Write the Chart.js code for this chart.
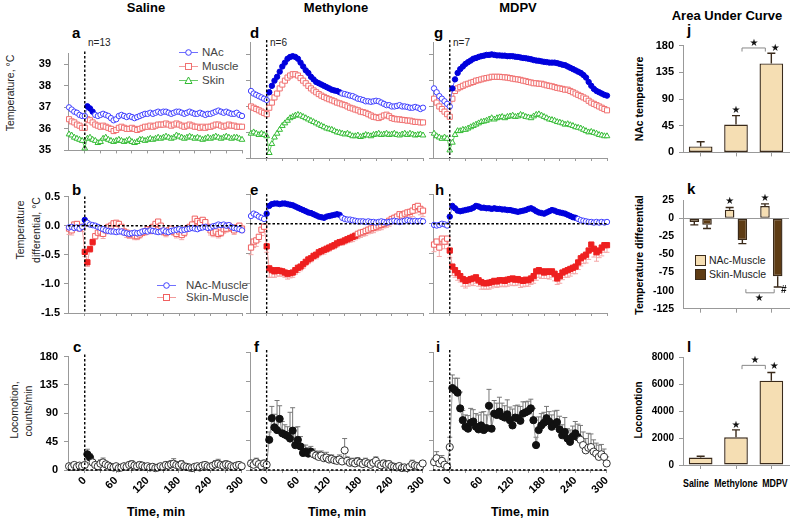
<!DOCTYPE html>
<html>
<head>
<meta charset="utf-8">
<script src="https://cdn.jsdelivr.net/npm/chart.js@4.4.1/dist/chart.umd.min.js"></script>
<style>
body { margin: 0; background: #fff; width: 791px; height: 521px; overflow: hidden; position: relative; font-family: "Liberation Sans", Arial, sans-serif; }
canvas { position: absolute; }
.tx { position: absolute; white-space: nowrap; line-height: 1; color: #000; }
.c { transform: translateX(-50%); }
.cn { transform: translateX(-50%) scaleX(0.8); }
.rot { transform: translate(-50%, -50%) rotate(-90deg); }
.b { font-weight: bold; }
.lg { position: absolute; display: flex; align-items: center; font-size: 11.5px; color: #444; white-space: nowrap; line-height: 1; }
.lg svg { margin-right: 4px; }
.box { width: 9px; height: 9px; border: 1px solid #3a2a1a; margin-right: 3px; }
</style>
</head>
<body>

<!-- column titles -->
<div class="tx b c" style="left:146px;top:1px;font-size:13px">Saline</div>
<div class="tx b c" style="left:336px;top:1px;font-size:13px">Methylone</div>
<div class="tx b c" style="left:518px;top:1px;font-size:13px">MDPV</div>
<div class="tx b c" style="left:727px;top:9px;font-size:13px">Area Under Curve</div>

<!-- panel letters -->
<div class="tx b" style="left:72px;top:25px;font-size:15px">a</div>
<div class="tx b" style="left:250px;top:25px;font-size:15px">d</div>
<div class="tx b" style="left:434px;top:25px;font-size:15px">g</div>
<div class="tx b" style="left:687px;top:22px;font-size:15px">j</div>
<div class="tx b" style="left:72px;top:182px;font-size:15px">b</div>
<div class="tx b" style="left:250px;top:182px;font-size:15px">e</div>
<div class="tx b" style="left:435px;top:182px;font-size:15px">h</div>
<div class="tx b" style="left:687px;top:181px;font-size:15px">k</div>
<div class="tx b" style="left:73px;top:339px;font-size:15px">c</div>
<div class="tx b" style="left:254px;top:339px;font-size:15px">f</div>
<div class="tx b" style="left:436px;top:339px;font-size:15px">i</div>
<div class="tx b" style="left:687px;top:339px;font-size:15px">l</div>

<!-- n labels -->
<div class="tx" style="left:88px;top:38px;font-size:10px;color:#222">n=13</div>
<div class="tx" style="left:270px;top:38px;font-size:10px;color:#222">n=6</div>
<div class="tx" style="left:453px;top:38px;font-size:10px;color:#222">n=7</div>

<!-- left axis titles -->
<div class="tx rot" style="left:10px;top:93px;font-size:10.5px;color:#222">Temperature, °C</div>
<div class="tx rot" style="left:20px;top:230px;font-size:10.5px;color:#222">Temperature</div>
<div class="tx rot" style="left:36px;top:230px;font-size:10.5px;color:#222">differential, °C</div>
<div class="tx rot" style="left:14px;top:410px;font-size:10.5px;color:#222">Locomotion,</div>
<div class="tx rot" style="left:28px;top:411px;font-size:10.5px;color:#222">counts/min</div>

<!-- right axis titles -->
<div class="tx b rot" style="left:639px;top:99px;font-size:10.5px">NAc temperature</div>
<div class="tx b rot" style="left:639px;top:255px;font-size:10.5px">Temperature differential</div>
<div class="tx b rot" style="left:639px;top:410px;font-size:10px">Locomotion</div>

<!-- x axis titles -->
<div class="tx b c" style="left:156px;top:506px;font-size:12.5px">Time, min</div>
<div class="tx b c" style="left:337px;top:506px;font-size:12.5px">Time, min</div>
<div class="tx b c" style="left:520px;top:506px;font-size:12.5px">Time, min</div>

<!-- group labels under panel l -->
<div class="tx b cn" style="left:696px;top:478px;font-size:11px">Saline</div>
<div class="tx b cn" style="left:736px;top:478px;font-size:11px">Methylone</div>
<div class="tx b cn" style="left:775px;top:478px;font-size:11px">MDPV</div>

<!-- legend a -->
<div class="lg" style="left:179px;top:47px"><svg width="19" height="9"><line x1="0" y1="4.5" x2="19" y2="4.5" stroke="#7070ff"/><circle cx="9.5" cy="4.5" r="2.8" fill="#fff" stroke="#4040ff"/></svg>NAc</div>
<div class="lg" style="left:179px;top:61px"><svg width="19" height="9"><line x1="0" y1="4.5" x2="19" y2="4.5" stroke="#f29a9a"/><rect x="6.5" y="1.5" width="6" height="6" fill="#fff" stroke="#f07070"/></svg>Muscle</div>
<div class="lg" style="left:179px;top:75px"><svg width="19" height="9"><line x1="0" y1="4.5" x2="19" y2="4.5" stroke="#66cc66"/><polygon points="9.5,1 13,7.5 6,7.5" fill="#fff" stroke="#33bb33"/></svg>Skin</div>

<!-- legend b -->
<div class="lg" style="left:157px;top:280px"><svg width="19" height="9"><line x1="0" y1="4.5" x2="19" y2="4.5" stroke="#7070ff"/><circle cx="9.5" cy="4.5" r="2.8" fill="#fff" stroke="#4040ff"/></svg><span style="margin-left:6px">NAc-Muscle</span></div>
<div class="lg" style="left:157px;top:292px"><svg width="19" height="9"><line x1="0" y1="4.5" x2="19" y2="4.5" stroke="#f29a9a"/><rect x="6.5" y="1.5" width="6" height="6" fill="#fff" stroke="#f06060"/></svg><span style="margin-left:6px">Skin-Muscle</span></div>

<!-- legend k -->
<div class="lg" style="left:695px;top:255px;font-size:10.5px;color:#222"><div class="box" style="background:#f5deb3"></div>NAc-Muscle</div>
<div class="lg" style="left:695px;top:269px;font-size:10.5px;color:#222"><div class="box" style="background:#5e3c14"></div>Skin-Muscle</div>

<script>
// ---- data ----
const TIME = [-30, -25, -20, -15, -10, -5, 0,
  5, 10, 15, 20, 25, 30, 35, 40, 45, 50,
  55, 60, 65, 70, 75, 80, 85, 90, 95, 100,
  105, 110, 115, 120, 125, 130, 135, 140, 145, 150,
  155, 160, 165, 170, 175, 180, 185, 190, 195, 200,
  205, 210, 215, 220, 225, 230, 235, 240, 245, 250,
  255, 260, 265, 270, 275, 280, 285, 290, 295, 300];
const X_TICKS = [0, 30, 60, 90, 120, 150, 180, 210, 240, 270, 300];
const TEMP_TICKS = [35, 36, 37, 38, 39];
const DIFF_TICKS = [-1.5, -1.0, -0.5, 0.0, 0.5];
const LOC_TICKS = [0, 45, 90, 135, 180];

// Saline temperatures
const SAL_NAC = [37.0, 36.9, 36.8, 36.75, 36.65, 36.6, 36.6,
  37.05, 36.95, 36.8, 36.65, 36.6, 36.65, 36.7, 36.65, 36.6, 36.5,
  36.4, 36.45, 36.6, 36.65, 36.6, 36.55, 36.6, 36.55, 36.5, 36.55,
  36.6, 36.65, 36.7, 36.7, 36.75, 36.7, 36.75, 36.8, 36.75, 36.8,
  36.8, 36.75, 36.7, 36.75, 36.8, 36.8, 36.75, 36.7, 36.75, 36.8,
  36.75, 36.7, 36.7, 36.75, 36.7, 36.65, 36.7, 36.7, 36.75, 36.8,
  36.85, 36.8, 36.75, 36.8, 36.75, 36.7, 36.7, 36.75, 36.65, 36.6];
const SAL_MUS = [36.45, 36.35, 36.3, 36.2, 36.15, 36.05, 36.05,
  36.45, 36.4, 36.3, 36.2, 36.15, 36.1, 36.15, 36.1, 36.05, 36.0,
  35.9, 35.95, 36.05, 36.1, 36.05, 36.0, 36.0, 36.05, 36.0, 35.95,
  36.0, 36.05, 36.1, 36.1, 36.15, 36.1, 36.15, 36.2, 36.2, 36.2,
  36.25, 36.2, 36.15, 36.2, 36.25, 36.2, 36.15, 36.1, 36.15, 36.2,
  36.15, 36.1, 36.1, 36.05, 36.1, 36.05, 36.1, 36.1, 36.15, 36.2,
  36.2, 36.15, 36.1, 36.15, 36.2, 36.15, 36.15, 36.1, 36.1, 36.1];
const SAL_SKIN = [35.75, 35.7, 35.6, 35.55, 35.5, 35.45, 35.1,
  35.55, 35.6, 35.5, 35.45, 35.35, 35.4, 35.55, 35.6, 35.5, 35.45,
  35.4, 35.45, 35.5, 35.45, 35.4, 35.45, 35.5, 35.4, 35.35, 35.4,
  35.5, 35.5, 35.45, 35.5, 35.55, 35.5, 35.55, 35.6, 35.55, 35.6,
  35.65, 35.6, 35.55, 35.6, 35.7, 35.65, 35.6, 35.55, 35.6, 35.65,
  35.6, 35.55, 35.6, 35.55, 35.5, 35.55, 35.6, 35.55, 35.6, 35.65,
  35.6, 35.55, 35.6, 35.65, 35.6, 35.55, 35.6, 35.6, 35.55, 35.5];

// Methylone temperatures
const MET_NAC = [37.6, 37.5, 37.45, 37.4, 37.35, 37.3, 37.25,
  37.55, 37.8, 38.0, 38.15, 38.35, 38.55, 38.7, 38.85, 38.92, 38.95,
  38.92, 38.85, 38.7, 38.55, 38.4, 38.3, 38.15, 38.05, 37.95, 37.9,
  37.85, 37.8, 37.75, 37.7, 37.65, 37.62, 37.6, 37.55, 37.5, 37.48,
  37.45, 37.42, 37.4, 37.35, 37.3, 37.28, 37.25, 37.2, 37.2, 37.18,
  37.2, 37.22, 37.2, 37.15, 37.1, 37.05, 37.05, 37.0, 37.0, 37.02,
  37.05, 37.0, 37.0, 36.98, 36.95, 36.95, 36.98, 36.95, 36.9, 36.95];
const MET_MUS = [37.0, 36.95, 36.9, 36.85, 36.8, 36.75, 36.7,
  36.95, 37.15, 37.35, 37.5, 37.7, 37.85, 38.0, 38.12, 38.2, 38.25,
  38.25, 38.2, 38.1, 38.0, 37.9, 37.8, 37.7, 37.62, 37.55, 37.48,
  37.42, 37.37, 37.32, 37.28, 37.24, 37.2, 37.15, 37.12, 37.08, 37.05,
  37.0, 36.95, 36.92, 36.88, 36.85, 36.8, 36.78, 36.75, 36.7, 36.65,
  36.6, 36.58, 36.55, 36.6, 36.65, 36.68, 36.62, 36.55, 36.52, 36.5,
  36.5, 36.48, 36.47, 36.45, 36.45, 36.42, 36.4, 36.4, 36.38, 36.38];
const MET_SKIN = [35.95, 36.0, 35.95, 35.9, 35.95, 35.9, 35.85,
  35.2, 35.55, 35.8, 35.95, 36.1, 36.25, 36.35, 36.45, 36.55, 36.6,
  36.65, 36.68, 36.65, 36.6, 36.55, 36.5, 36.45, 36.4, 36.35, 36.3,
  36.25, 36.2, 36.15, 36.12, 36.1, 36.05, 36.0, 35.98, 35.95, 35.92,
  35.95, 35.9, 35.85, 35.85, 35.88, 35.82, 35.85, 35.9, 35.88, 35.85,
  35.9, 35.92, 35.95, 35.9, 35.92, 35.95, 35.9, 35.92, 35.95, 35.9,
  35.88, 35.92, 35.95, 35.9, 35.95, 35.92, 35.88, 35.9, 35.92, 35.88];

// MDPV temperatures
const MDPV_NAC = [37.7, 37.55, 37.4, 37.3, 37.2, 37.1, 37.0,
  37.7, 38.05, 38.3, 38.45, 38.55, 38.65, 38.72, 38.78, 38.85, 38.88,
  38.92, 38.95, 38.97, 39.0, 39.0, 39.02, 39.0, 38.98, 38.98, 38.97,
  38.97, 38.95, 38.95, 38.95, 38.93, 38.92, 38.9, 38.88, 38.87, 38.85,
  38.83, 38.8, 38.78, 38.77, 38.75, 38.73, 38.72, 38.7, 38.7, 38.7,
  38.68, 38.65, 38.62, 38.6, 38.55, 38.5, 38.45, 38.4, 38.35, 38.3,
  38.22, 38.12, 37.95, 37.8, 37.68, 37.6, 37.55, 37.5, 37.45, 37.42];
const MDPV_MUS = [37.3, 37.15, 37.0, 36.9, 36.8, 36.7, 36.6,
  37.3, 37.6, 37.7, 37.75, 37.8, 37.85, 37.88, 37.92, 37.95, 38.0,
  38.02, 38.05, 38.08, 38.1, 38.12, 38.15, 38.15, 38.15, 38.15, 38.14,
  38.13, 38.12, 38.1, 38.08, 38.06, 38.05, 38.03, 38.0, 37.98, 37.95,
  37.93, 37.9, 37.9, 37.88, 37.88, 37.85, 37.82, 37.8, 37.78, 37.75,
  37.72, 37.7, 37.68, 37.65, 37.65, 37.6, 37.55, 37.5, 37.45, 37.4,
  37.35, 37.3, 37.22, 37.15, 37.1, 37.05, 37.0, 36.95, 36.9, 36.85];
const MDPV_SKIN = [35.95, 35.85, 35.8, 35.75, 35.8, 35.75, 35.3,
  35.6, 35.9, 36.05, 36.05, 36.1, 36.1, 36.15, 36.2, 36.25, 36.3,
  36.35, 36.4, 36.42, 36.45, 36.5, 36.55, 36.5, 36.55, 36.58, 36.6,
  36.55, 36.6, 36.62, 36.65, 36.6, 36.62, 36.68, 36.65, 36.6, 36.58,
  36.55, 36.62, 36.68, 36.7, 36.65, 36.6, 36.55, 36.5, 36.48, 36.45,
  36.4, 36.38, 36.35, 36.3, 36.32, 36.28, 36.25, 36.2, 36.18, 36.15,
  36.1, 36.05, 36.0, 36.02, 35.98, 35.95, 35.9, 35.88, 35.85, 35.85];

// Temperature differentials
const SAL_NM = [-0.03, -0.02, -0.04, -0.03, -0.05, -0.02, 0.1,
  0.05, 0.02, 0.01, 0.0, -0.02, -0.04, -0.06, -0.08, -0.09, -0.1,
  -0.1, -0.11, -0.1, -0.1, -0.12, -0.13, -0.14, -0.13, -0.12, -0.13,
  -0.12, -0.1, -0.09, -0.1, -0.08, -0.09, -0.1, -0.11, -0.1, -0.08,
  -0.1, -0.11, -0.09, -0.08, -0.07, -0.06, -0.08, -0.07, -0.06, -0.05,
  -0.04, -0.05, -0.06, -0.04, -0.03, -0.02, -0.04, -0.03, -0.01, 0.0,
  0.02, 0.01, 0.02, 0.0, 0.01, -0.02, -0.04, -0.05, -0.06, -0.08];
const SAL_SM = [-0.05, -0.08, 0.02, 0.03, -0.04, -0.02, -0.45,
  -0.63, -0.4, -0.28, -0.18, -0.12, -0.1, -0.14, -0.08, -0.02, 0.0,
  0.04, 0.05, 0.03, -0.02, -0.1, -0.12, -0.15, -0.14, -0.17, -0.18,
  -0.15, -0.12, -0.1, -0.06, -0.08, -0.02, 0.03, 0.07, 0.0, -0.1,
  -0.12, -0.08, -0.05, -0.11, -0.14, -0.1, -0.16, -0.12, -0.05, -0.02,
  0.02, 0.12, 0.08, 0.05, 0.1, 0.06, -0.02, -0.08, -0.12, -0.1,
  -0.14, -0.12, -0.06, -0.05, 0.0, -0.04, -0.08, -0.03, 0.0, -0.05];
const SAL_SM_ERR = [0.1, 0.08, 0.06, 0.07, 0.06, 0.08, 0.08,
  0.07, 0.06, 0.06, 0.05, 0.06, 0.05, 0.08, 0.06, 0.05, 0.06,
  0.05, 0.06, 0.05, 0.07, 0.06, 0.08, 0.07, 0.06, 0.07, 0.06,
  0.06, 0.05, 0.06, 0.07, 0.06, 0.05, 0.06, 0.07, 0.05, 0.06,
  0.07, 0.06, 0.06, 0.05, 0.07, 0.06, 0.08, 0.06, 0.05, 0.06,
  0.05, 0.06, 0.06, 0.05, 0.06, 0.07, 0.06, 0.08, 0.07, 0.06,
  0.07, 0.06, 0.07, 0.06, 0.05, 0.06, 0.07, 0.06, 0.06, 0.07];
const MET_NM = [0.13, 0.17, 0.15, 0.12, 0.1, 0.08, 0.17,
  0.3, 0.33, 0.34, 0.34, 0.33, 0.34, 0.34, 0.33, 0.32, 0.31,
  0.29, 0.27, 0.25, 0.23, 0.21, 0.19, 0.18, 0.16, 0.14, 0.12,
  0.11, 0.1, 0.12, 0.13, 0.14, 0.15, 0.16, 0.15, 0.1, 0.08,
  0.07, 0.07, 0.06, 0.05, 0.04, 0.04, 0.04, 0.03, 0.04, 0.03,
  0.03, 0.02, 0.03, 0.04, 0.03, 0.02, 0.03, 0.04, 0.05, 0.04,
  0.03, 0.04, 0.05, 0.06, 0.05, 0.04, 0.05, 0.04, 0.05, 0.04];
const MET_SM = [-0.4, -0.3, -0.28, -0.22, -0.1, -0.05, -0.38,
  -0.75, -0.78, -0.8, -0.78, -0.79, -0.8, -0.82, -0.84, -0.83, -0.82,
  -0.78, -0.74, -0.72, -0.68, -0.64, -0.6, -0.58, -0.54, -0.52, -0.48,
  -0.46, -0.44, -0.42, -0.4, -0.38, -0.36, -0.33, -0.31, -0.3, -0.28,
  -0.26, -0.24, -0.22, -0.2, -0.17, -0.15, -0.14, -0.12, -0.1, -0.08,
  -0.07, -0.05, -0.03, -0.02, 0.0, 0.02, 0.05, 0.08, 0.1, 0.12,
  0.16, 0.14, 0.17, 0.19, 0.2, 0.22, 0.28, 0.3, 0.25, 0.22];
const MET_SM_ERR = [0.12, 0.1, 0.1, 0.08, 0.1, 0.08, 0.1,
  0.15, 0.12, 0.1, 0.1, 0.09, 0.08, 0.08, 0.09, 0.08, 0.08,
  0.07, 0.08, 0.07, 0.07, 0.06, 0.07, 0.06, 0.06, 0.07, 0.06,
  0.06, 0.07, 0.06, 0.06, 0.05, 0.06, 0.06, 0.05, 0.06, 0.06,
  0.06, 0.07, 0.08, 0.07, 0.08, 0.08, 0.07, 0.08, 0.07, 0.08,
  0.08, 0.07, 0.08, 0.08, 0.07, 0.08, 0.09, 0.08, 0.1, 0.09,
  0.1, 0.09, 0.1, 0.1, 0.09, 0.1, 0.1, 0.11, 0.1, 0.1];
const MDPV_NM = [-0.02, -0.03, -0.02, 0.0, -0.01, -0.03, 0.12,
  0.3, 0.26, 0.22, 0.21, 0.22, 0.23, 0.24, 0.25, 0.27, 0.3,
  0.29, 0.27, 0.27, 0.26, 0.26, 0.25, 0.26, 0.25, 0.25, 0.24,
  0.24, 0.23, 0.23, 0.22, 0.21, 0.2, 0.21, 0.22, 0.23, 0.25,
  0.26, 0.24, 0.21, 0.19, 0.18, 0.17, 0.19, 0.21, 0.23, 0.22,
  0.2, 0.19, 0.18, 0.17, 0.15, 0.13, 0.11, 0.1, 0.08, 0.06,
  0.05, 0.04, 0.03, 0.03, 0.02, 0.03, 0.02, 0.03, 0.02, 0.03];
const MDPV_SM = [-0.35, -0.3, -0.4, -0.25, -0.3, -0.25, -0.45,
  -0.72, -0.78, -0.83, -0.88, -0.93, -0.96, -0.95, -0.93, -0.92, -0.9,
  -0.95, -0.98, -1.0, -1.0, -0.99, -0.98, -0.96, -0.97, -0.95, -0.95,
  -0.96, -0.94, -0.93, -0.92, -0.94, -0.93, -0.95, -0.96, -0.94, -0.95,
  -0.92, -0.88, -0.8, -0.78, -0.8, -0.82, -0.8, -0.81, -0.8, -0.84,
  -0.92, -0.88, -0.82, -0.8, -0.78, -0.76, -0.74, -0.72, -0.65, -0.58,
  -0.55, -0.52, -0.45, -0.35, -0.42, -0.48, -0.45, -0.4, -0.36, -0.36];
const MDPV_SM_ERR = [0.12, 0.1, 0.15, 0.1, 0.12, 0.1, 0.12,
  0.15, 0.12, 0.12, 0.1, 0.12, 0.12, 0.1, 0.1, 0.12, 0.1,
  0.1, 0.12, 0.1, 0.1, 0.11, 0.1, 0.1, 0.1, 0.11, 0.1,
  0.1, 0.11, 0.1, 0.12, 0.1, 0.1, 0.12, 0.1, 0.11, 0.1,
  0.1, 0.12, 0.15, 0.12, 0.12, 0.1, 0.12, 0.12, 0.1, 0.12,
  0.1, 0.12, 0.12, 0.1, 0.12, 0.12, 0.1, 0.12, 0.12, 0.13,
  0.12, 0.14, 0.15, 0.12, 0.14, 0.15, 0.12, 0.14, 0.12, 0.12];

// Locomotion, counts/min
const SAL_LOC = [6, 5, 8, 5, 7, 6, 8,
  25, 20, 12, 8, 6, 10, 12, 9, 7, 5,
  4, 6, 3, 4, 6, 5, 8, 9, 7, 6,
  8, 7, 5, 6, 4, 5, 3, 4, 6, 5,
  8, 7, 9, 10, 8, 7, 9, 6, 5, 4,
  3, 5, 6, 4, 7, 8, 6, 5, 7, 9,
  10, 8, 7, 9, 8, 6, 5, 7, 8, 6];
const SAL_LOC_ERR = [4, 3, 4, 3, 4, 3, 4,
  8, 6, 5, 4, 3, 6, 7, 5, 4, 3,
  3, 4, 2, 3, 4, 3, 5, 6, 4, 3,
  5, 4, 3, 4, 3, 3, 2, 3, 4, 3,
  5, 4, 6, 8, 5, 4, 6, 4, 3, 3,
  2, 3, 4, 3, 4, 5, 4, 3, 4, 6,
  7, 5, 4, 6, 5, 4, 3, 4, 5, 4];
const MET_LOC = [10, 8, 12, 9, 6, 10, 8,
  46, 79, 65, 61, 78, 56, 54, 52, 48, 60,
  38, 46, 36, 26, 28, 25, 28, 24, 22, 20,
  22, 18, 19, 16, 17, 15, 14, 16, 13, 30,
  14, 11, 12, 10, 13, 11, 9, 12, 10, 8,
  11, 14, 9, 7, 10, 8, 9, 6, 5, 4,
  6, 3, 4, 3, 5, 9, 7, 6, 5, 10];
const MET_LOC_ERR = [5, 4, 6, 5, 3, 5, 4,
  12, 18, 20, 45, 20, 18, 15, 14, 40, 35,
  27, 20, 15, 12, 10, 9, 8, 8, 7, 8,
  7, 6, 8, 7, 6, 5, 6, 7, 5, 18,
  6, 5, 6, 5, 6, 5, 4, 6, 5, 4,
  5, 6, 4, 3, 5, 4, 5, 3, 3, 2,
  3, 2, 2, 2, 3, 6, 4, 3, 3, 4];
const MDPV_LOC = [12, 18, 10, 14, 8, 5, 35,
  125, 122, 118, 94, 76, 66, 63, 72, 74, 66,
  62, 68, 61, 64, 98, 63, 86, 84, 89, 82,
  80, 85, 76, 68, 80, 79, 75, 86, 88, 90,
  94, 76, 38, 61, 68, 72, 79, 74, 66, 70,
  73, 62, 53, 58, 48, 43, 51, 56, 50, 46,
  38, 30, 34, 35, 28, 25, 20, 24, 20, 10];
const MDPV_LOC_ERR = [6, 10, 5, 8, 4, 3, 15,
  20, 18, 22, 25, 15, 18, 20, 22, 18, 20,
  22, 20, 28, 20, 25, 22, 20, 18, 22, 20,
  18, 22, 20, 25, 18, 20, 22, 18, 16, 15,
  14, 18, 12, 20, 18, 16, 18, 15, 18, 20,
  18, 20, 16, 22, 15, 18, 16, 18, 20, 22,
  20, 18, 22, 20, 18, 16, 18, 15, 12, 10];

// time windows (min) drawn with filled symbols
const SIG_A_NAC = [5, 15];
const SIG_B_NM = [0, 0], SIG_B_SM = [0, 15];
const SIG_C_LOC = [5, 10];
const SIG_D_NAC = [5, 140];
const SIG_E_NM = [0, 140], SIG_E_SM = [0, 170];
const SIG_F_LOC = [5, 85];
const SIG_G_NAC = [5, 300];
const SIG_H_NM = [0, 240], SIG_H_SM = [0, 300];
const SIG_I_LOC = [5, 245];

// Area under curve
const GROUPS = ['Saline', 'Methylone', 'MDPV'];
const AUC_TEMP = [10, 47, 150], AUC_TEMP_ERR = [8, 15, 17];
const AUC_NM = [-5, 12, 17], AUC_NM_ERR = [4, 3, 3];
const AUC_SM = [-9, -30, -80], AUC_SM_ERR = [5, 5, 15];
const AUC_LOC = [550, 2050, 6250], AUC_LOC_ERR = [100, 550, 600];
const AUC_TEMP_TICKS = [0, 45, 90, 135, 180];
const AUC_DIFF_TICKS = [-125, -100, -75, -50, -25, 0, 25];
const AUC_LOC_TICKS = [0, 2000, 4000, 6000, 8000];

// ---- drawing ----
const FONT = '"Liberation Sans", Arial, sans-serif';
const AXIS = '#999';

function inSig(ctx) {
    const s = ctx.dataset && ctx.dataset.sig;
    if (!s || ctx.dataIndex === undefined) return false;
    const t = TIME[ctx.dataIndex];
    return t >= s[0] && t <= s[1];
}

function series(arr, o) {
    return {
        data: TIME.map((t, i) => ({ x: t, y: arr[i] })),
        errors: o.err || null, errSign: o.errSign || 1, errColor: o.errColor || '#ccc',
        sig: o.sig || null,
        borderColor: o.line, borderWidth: 1,
        pointStyle: o.shape, pointRadius: o.r,
        pointBorderWidth: 1,
        pointBorderColor: ctx => inSig(ctx) ? o.fill : o.stroke,
        pointBackgroundColor: ctx => inSig(ctx) ? o.fill : '#fff',
        clip: false
    };
}

const NAC = { shape: 'circle', r: 2.7, stroke: '#4040ff', line: '#7070ff', fill: '#0000dd' };
const MUS = { shape: 'rect', r: 3.6, stroke: '#f07070', line: '#f29a9a', fill: '#e02020' };
const SKIN = { shape: 'triangle', r: 3.3, stroke: '#33bb33', line: '#66cc66', fill: '#119911' };
const SM = { shape: 'rect', r: 3.7, stroke: '#f06060', line: '#f29a9a', fill: '#ee2020', errSign: -1, errColor: '#f5a8a8' };
const LOC = { shape: 'circle', r: 3.6, stroke: '#333', line: '#999', fill: '#111', errSign: 1, errColor: '#777' };

const timeExtras = {
    id: 'timeExtras',
    beforeDatasetsDraw(chart, args, opts) {
        const { ctx } = chart;
        const x = chart.scales.x, y = chart.scales.y;
        ctx.save();
        chart.data.datasets.forEach(ds => {
            if (!ds.errors) return;
            ctx.strokeStyle = ds.errColor;
            ctx.lineWidth = 1;
            ds.data.forEach((p, j) => {
                const px = x.getPixelForValue(p.x);
                const py = y.getPixelForValue(p.y);
                const pe = y.getPixelForValue(p.y + ds.errSign * ds.errors[j]);
                ctx.beginPath();
                ctx.moveTo(px, py); ctx.lineTo(px, pe);
                ctx.moveTo(px - 2.5, pe); ctx.lineTo(px + 2.5, pe);
                ctx.stroke();
            });
        });
        ctx.restore();
    },
    afterDatasetsDraw(chart, args, opts) {
        const { ctx, chartArea: a } = chart;
        const x = chart.scales.x, y = chart.scales.y;
        ctx.save();
        ctx.strokeStyle = '#000';
        ctx.lineWidth = 1.4;
        ctx.setLineDash([2.5, 2]);
        const x0 = x.getPixelForValue(0);
        ctx.beginPath();
        ctx.moveTo(x0, a.top - opts.vExt);
        ctx.lineTo(x0, a.bottom);
        ctx.stroke();
        if (opts.hLine) {
            const y0 = y.getPixelForValue(0);
            ctx.beginPath();
            ctx.moveTo(a.left, y0);
            ctx.lineTo(a.right, y0);
            ctx.stroke();
        }
        ctx.restore();
    }
};

function makeCanvas(l, r, t, b, yw, xh, pt, pr) {
    const c = document.createElement('canvas');
    c.width = (r - l) + yw + pr;
    c.height = (b - t) + pt + xh;
    c.style.left = (l - yw) + 'px';
    c.style.top = (t - pt) + 'px';
    document.body.appendChild(c);
    return c;
}

const COLS = [{ l: 68, r: 242, yw: 45 }, { l: 250, r: 423, yw: 6 }, { l: 433, r: 607, yw: 6 }];
const ROWS = [
    { t: 42, b: 158, min: 35, max: 39.5, ticks: TEMP_TICKS, pad: 13, fmt: v => String(v), xh: 12, xLabels: false, vExt: 2, hLine: false },
    { t: 194, b: 313, min: -1.5, max: 0.5, ticks: DIFF_TICKS, pad: 4, fmt: v => v.toFixed(1), xh: 12, xLabels: false, vExt: 0, hLine: true },
    { t: 352, b: 470, min: 0, max: 180, ticks: LOC_TICKS, pad: 6, fmt: v => String(v), xh: 32, xLabels: true, vExt: 2, hLine: true }
];

function timeChart(col, row, datasets) {
    const C = COLS[col], R = ROWS[row];
    const canvas = makeCanvas(C.l, C.r, R.t, R.b, C.yw, R.xh, 8, 10);
    const tickFont = { family: FONT, size: 11, weight: 'bold' };
    new Chart(canvas, {
        type: 'line',
        data: { datasets },
        options: {
            responsive: false, animation: false, events: [],
            layout: { padding: { top: 8, right: 10, left: 0, bottom: 0 } },
            plugins: {
                legend: { display: false }, tooltip: { enabled: false },
                timeExtras: { vExt: R.vExt, hLine: R.hLine }
            },
            scales: {
                x: {
                    type: 'linear', min: -32, max: 300,
                    afterBuildTicks: s => { s.ticks = X_TICKS.map(v => ({ value: v })); },
                    afterFit: s => { s.height = R.xh; },
                    border: { color: AXIS, width: 1 },
                    grid: { drawOnChartArea: false, tickLength: 3, color: AXIS },
                    ticks: {
                        display: R.xLabels, autoSkip: false, minRotation: 45, maxRotation: 45, padding: 1,
                        font: tickFont, color: '#000',
                        callback: v => (v % 60 === 0 ? String(v) : '')
                    }
                },
                y: {
                    min: R.min, max: R.max,
                    afterBuildTicks: s => { s.ticks = R.ticks.map(v => ({ value: v })); },
                    afterFit: s => { s.width = C.yw; },
                    border: { color: AXIS, width: 1 },
                    grid: { drawOnChartArea: false, tickLength: 4, color: AXIS },
                    ticks: { display: col === 0, padding: R.pad, font: tickFont, color: '#000', callback: R.fmt }
                }
            }
        },
        plugins: [timeExtras]
    });
}

// row 1: temperatures
timeChart(0, 0, [series(SAL_NAC, { ...NAC, sig: SIG_A_NAC }), series(SAL_MUS, MUS), series(SAL_SKIN, SKIN)]);
timeChart(1, 0, [series(MET_NAC, { ...NAC, sig: SIG_D_NAC }), series(MET_MUS, MUS), series(MET_SKIN, SKIN)]);
timeChart(2, 0, [series(MDPV_NAC, { ...NAC, sig: SIG_G_NAC }), series(MDPV_MUS, MUS), series(MDPV_SKIN, SKIN)]);
// row 2: differentials
timeChart(0, 1, [series(SAL_NM, { ...NAC, sig: SIG_B_NM }), series(SAL_SM, { ...SM, sig: SIG_B_SM, err: SAL_SM_ERR })]);
timeChart(1, 1, [series(MET_NM, { ...NAC, sig: SIG_E_NM }), series(MET_SM, { ...SM, sig: SIG_E_SM, err: MET_SM_ERR })]);
timeChart(2, 1, [series(MDPV_NM, { ...NAC, sig: SIG_H_NM }), series(MDPV_SM, { ...SM, sig: SIG_H_SM, err: MDPV_SM_ERR })]);
// row 3: locomotion
timeChart(0, 2, [series(SAL_LOC, { ...LOC, sig: SIG_C_LOC, err: SAL_LOC_ERR })]);
timeChart(1, 2, [series(MET_LOC, { ...LOC, sig: SIG_F_LOC, err: MET_LOC_ERR })]);
timeChart(2, 2, [series(MDPV_LOC, { ...LOC, sig: SIG_I_LOC, err: MDPV_LOC_ERR })]);

// ---- bar charts ----
const barExtras = {
    id: 'barExtras',
    afterDatasetsDraw(chart, args, opts) {
        const { ctx } = chart;
        const y = chart.scales.y;
        ctx.save();
        ctx.strokeStyle = '#3a2a1a';
        ctx.lineWidth = 1.4;
        chart.data.datasets.forEach((ds, i) => {
            chart.getDatasetMeta(i).data.forEach((bar, j) => {
                const v = ds.data[j], e = ds.errors[j];
                const ye = y.getPixelForValue(v + (v >= 0 ? e : -e));
                ctx.beginPath();
                ctx.moveTo(bar.x, bar.y); ctx.lineTo(bar.x, ye);
                ctx.moveTo(bar.x - 4, ye); ctx.lineTo(bar.x + 4, ye);
                ctx.stroke();
            });
        });
        ctx.strokeStyle = '#888';
        ctx.lineWidth = 1;
        (opts.brackets || []).forEach(b => {
            const x1 = chart.getDatasetMeta(b.ds).data[b.i1].x + b.dx1;
            const x2 = chart.getDatasetMeta(b.ds).data[b.i2].x + b.dx2;
            const yb = y.getPixelForValue(b.v), ye = y.getPixelForValue(b.v + b.tick);
            ctx.beginPath();
            ctx.moveTo(x1, ye); ctx.lineTo(x1, yb); ctx.lineTo(x2, yb); ctx.lineTo(x2, ye);
            ctx.stroke();
        });
        ctx.fillStyle = '#111';
        ctx.textAlign = 'center';
        ctx.textBaseline = 'middle';
        (opts.marks || []).forEach(m => {
            const bar = chart.getDatasetMeta(m.ds).data[m.i];
            ctx.font = m.font || '10px "DejaVu Sans"';
            ctx.fillText(m.text, bar.x + (m.dx || 0), y.getPixelForValue(m.v));
        });
        ctx.restore();
    }
};

function barChart(t, b, datasets, ticks, min, max, xh, extras, fontSize, catPct, barPct, zeroLine) {
    const l = 683, r = 789, yw = 45;
    const canvas = makeCanvas(l, r, t, b, yw, xh, 8, 2);
    new Chart(canvas, {
        type: 'bar',
        data: { labels: GROUPS, datasets },
        options: {
            responsive: false, animation: false, events: [],
            layout: { padding: { top: 8, right: 2, left: 0, bottom: 0 } },
            datasets: { bar: { categoryPercentage: catPct, barPercentage: barPct, borderSkipped: false, borderWidth: 1.4, borderColor: '#3a2a1a' } },
            plugins: { legend: { display: false }, tooltip: { enabled: false }, barExtras: extras },
            scales: {
                x: {
                    afterFit: s => { s.height = xh; },
                    border: { color: AXIS, width: 1 },
                    grid: { offset: false, drawOnChartArea: false, tickLength: 4, color: AXIS },
                    ticks: { autoSkip: false, maxRotation: 0, minRotation: 0, callback: () => '' }
                },
                y: {
                    min, max,
                    afterBuildTicks: s => { s.ticks = ticks.map(v => ({ value: v })); },
                    afterFit: s => { s.width = yw; },
                    border: { color: AXIS, width: 1 },
                    grid: {
                        drawOnChartArea: zeroLine, tickLength: 4,
                        color: c => (zeroLine && c.tick && c.tick.value === 0) ? AXIS : (zeroLine ? 'rgba(0,0,0,0)' : AXIS)
                    },
                    ticks: { padding: 5, font: { family: FONT, size: fontSize, weight: 'bold' }, color: '#000', callback: v => String(v) }
                }
            }
        },
        plugins: [barExtras]
    });
}

const TAN = '#f5deb3', BROWN = '#5e3c14';
const STAR = '★';

barChart(42, 158, [{ data: AUC_TEMP, errors: AUC_TEMP_ERR, backgroundColor: TAN }],
    AUC_TEMP_TICKS, 0, 180, 6, {
        brackets: [{ ds: 0, i1: 1, i2: 2, dx1: 6, dx2: -6, v: 176, tick: -6 }],
        marks: [{ ds: 0, i: 1, v: 70, text: STAR }, { ds: 0, i: 2, v: 175, dx: 4, text: STAR }, { ds: 0, i: 1, v: 184, dx: 18, text: STAR }]
    }, 11, 1.0, 0.67, false);

barChart(197, 314, [
    { data: AUC_NM, errors: AUC_NM_ERR, backgroundColor: TAN },
    { data: AUC_SM, errors: AUC_SM_ERR, backgroundColor: BROWN }
], AUC_DIFF_TICKS, -125, 25, 6, {
    brackets: [{ ds: 1, i1: 1, i2: 2, dx1: 3.5, dx2: -3.5, v: -103, tick: 5 }],
    marks: [{ ds: 0, i: 1, v: 23.5, text: STAR }, { ds: 0, i: 2, v: 28, text: STAR },
        { ds: 1, i: 2, v: -110.5, dx: -18.5, text: STAR }, { ds: 1, i: 2, v: -100, dx: 6, text: '#', font: 'bold 10px "Liberation Sans"' }]
}, 10.5, 0.72, 0.75, true);

barChart(354, 470, [{ data: AUC_LOC, errors: AUC_LOC_ERR, backgroundColor: TAN }],
    AUC_LOC_TICKS, 0, 8000, 6, {
        brackets: [{ ds: 0, i1: 1, i2: 2, dx1: 6, dx2: -6, v: 7380, tick: -280 }],
        marks: [{ ds: 0, i: 1, v: 2965, text: STAR }, { ds: 0, i: 2, v: 7310, dx: 3, text: STAR }, { ds: 0, i: 1, v: 7720, dx: 19, text: STAR }]
    }, 10, 1.0, 0.67, false);
</script>
</body>
</html>
